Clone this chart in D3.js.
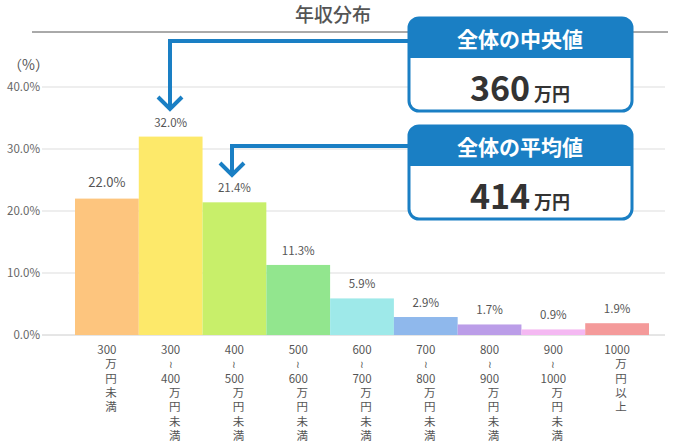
<!DOCTYPE html><html><head><meta charset="utf-8"><script src="https://cdn.jsdelivr.net/npm/d3@7"></script>
<style>body{margin:0;background:#fff}text{font-family:"Noto Sans CJK JP",sans-serif}</style></head><body><svg id="c" width="688" height="446"></svg>
<script>
const categories=[["300","万","円","未","満"],["300","≀","400","万","円","未","満"],["400","≀","500","万","円","未","満"],["500","≀","600","万","円","未","満"],["600","≀","700","万","円","未","満"],["700","≀","800","万","円","未","満"],["800","≀","900","万","円","未","満"],["900","≀","1000","万","円","未","満"],["1000","万","円","以","上"]];
const values=[22.0,32.0,21.4,11.3,5.9,2.9,1.7,0.9,1.9];
const colors=["#fdc57e","#fde96a","#c8ef6a","#92e68e","#9ee9e9","#8fb8ec","#bb9de8","#f4b8f2","#f49a9a"];
const yTicks=[0,10,20,30,40];
const svg=d3.select("#c");
const x=d3.scaleBand().domain(d3.range(values.length)).range([75,649]).padding(0);
const y=d3.scaleLinear().domain([0,40]).range([335,87]);
svg.append("text").attr("x",333).attr("y",22).attr("text-anchor","middle").attr("font-size",19).attr("font-weight",500).attr("fill","#555").text("年収分布");
svg.append("line").attr("x1",32).attr("x2",668).attr("y1",32).attr("y2",32).attr("stroke","#555");
svg.append("text").attr("x",8).attr("y",70).attr("font-size",14).attr("fill","#555").text("（%）");
yTicks.forEach(t=>{
 svg.append("line").attr("x1",42).attr("x2",665).attr("y1",y(t)).attr("y2",y(t)).attr("stroke",t?"#ddd":"#ccc");
 svg.append("text").attr("x",40).attr("y",y(t)+4).attr("text-anchor","end").attr("font-size",11.5).attr("fill","#666").text(t.toFixed(1)+"%");
});
values.forEach((v,i)=>{
 svg.append("rect").attr("x",x(i)).attr("width",x.bandwidth()).attr("y",y(v)).attr("height",y(0)-y(v)).attr("fill",colors[i]);
 svg.append("text").attr("x",x(i)+x.bandwidth()/2).attr("y",y(v)-(i==0?12:10)).attr("text-anchor","middle").attr("font-size",i==0?13:11.5).attr("fill","#555").text(v.toFixed(1)+"%");
 const cx=x(i)+x.bandwidth()/2;
 categories[i].forEach((s,j)=>{
  const t=svg.append("text").attr("x",cx+(s.length==1&&j>(categories[i].length==5?0:2)?4:0)).attr("y",354+j*14.3).attr("text-anchor","middle").attr("font-size",11.5).attr("fill","#555").text(s);
  if(s=="≀")t.attr("font-size",10);
 });
});
function callout(y0,title,num){
 const g=svg.append("g");
 g.append("rect").attr("x",409).attr("y",y0).attr("width",223).attr("height",93).attr("rx",10).attr("fill","#fff").attr("stroke","#1a7fc4").attr("stroke-width",3);
 g.append("path").attr("d",`M409,${y0+40}V${y0+10}a10,10 0 0 1 10,-10H622a10,10 0 0 1 10,10V${y0+40}Z`).attr("fill","#1a7fc4");
 g.append("text").attr("x",520).attr("y",y0+29).attr("text-anchor","middle").attr("font-size",21).attr("font-weight","bold").attr("fill","#fff").text(title);
 const t=g.append("text").attr("x",520).attr("y",y0+83).attr("text-anchor","middle").attr("fill","#333").attr("font-weight","bold");
 t.append("tspan").attr("font-size",34).text(num);t.append("tspan").attr("font-size",18).attr("dx",4).text("万円");
}
function arrow(yh,xa,yb){
 svg.append("path").attr("d",`M410,${yh}H${xa}V${yb}`).attr("fill","none").attr("stroke","#1a7fc4").attr("stroke-width",4);
 svg.append("path").attr("d",`M${xa-12},${yb-11}L${xa},${yb+1}L${xa+12},${yb-11}`).attr("fill","none").attr("stroke","#1a7fc4").attr("stroke-width",4);
}
arrow(41,170,108);arrow(146,232,174);
callout(18,"全体の中央値","360");callout(126,"全体の平均値","414");
</script></body></html>
